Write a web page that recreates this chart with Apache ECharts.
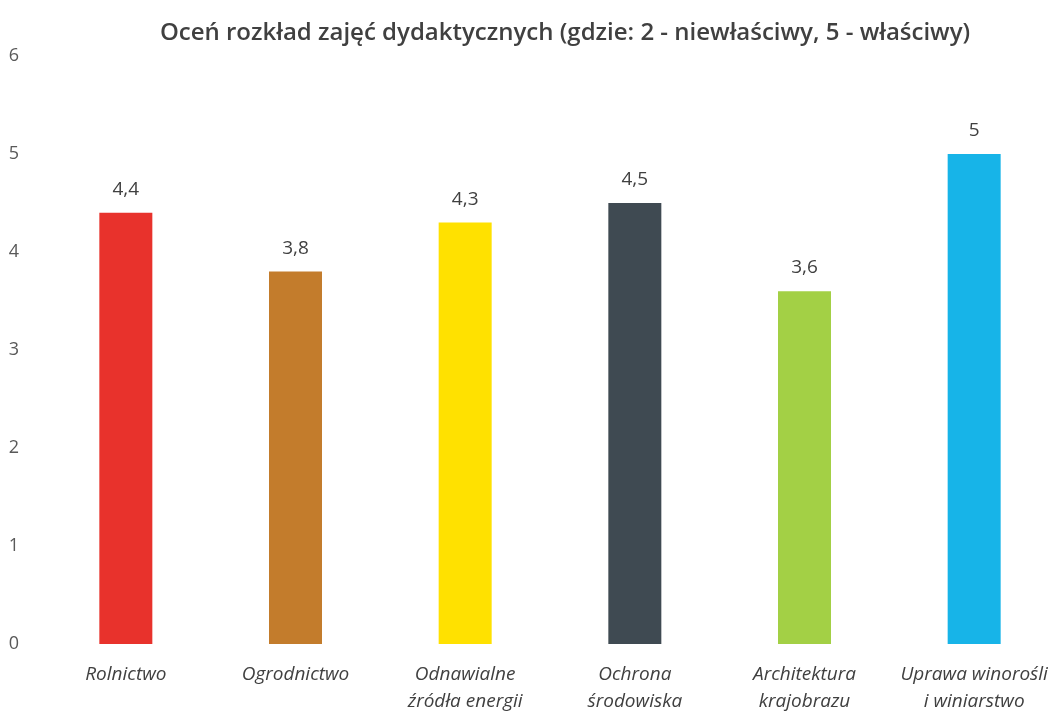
<!DOCTYPE html>
<html>
<head>
<meta charset="utf-8">
<script src="https://cdn.jsdelivr.net/npm/echarts@6/dist/echarts.min.js"></script>
<style>
  html, body { margin: 0; padding: 0; background: #fff; }
  #chart { width: 1059px; height: 712px; }
</style>
</head>
<body>
<div id="chart"></div>
<script>
const categories = [
  "Rolnictwo",
  "Ogrodnictwo",
  "Odnawialne\nźródła energii",
  "Ochrona\nśrodowiska",
  "Architektura\nkrajobrazu",
  "Uprawa winorośli\ni winiarstwo"
];
const ratings = [4.4, 3.8, 4.3, 4.5, 3.6, 5];
const barColors = ["#e8322c", "#c37c2c", "#ffe100", "#3f4a52", "#a3d045", "#17b4e8"];

const chart = echarts.init(document.getElementById("chart"));

chart.setOption({
  backgroundColor: "#ffffff",
  animation: false,
  title: {
    text: "Oceń rozkład zajęć dydaktycznych (gdzie: 2 - niewłaściwy, 5 - właściwy)",
    left: 560,
    top: 16,
    textAlign: "center",
    textStyle: {
      fontFamily: "Open Sans",
      fontSize: 24,
      fontWeight: 600,
      color: "#404040"
    }
  },
  grid: { left: 41, right: 0, top: 56, bottom: 68, outerBoundsMode: "none" },
  xAxis: {
    type: "category",
    data: categories,
    axisLine: { show: false },
    axisTick: { show: false },
    axisLabel: {
      interval: 0,
      margin: 17,
      fontFamily: "Open Sans",
      fontStyle: "italic",
      fontSize: 19,
      lineHeight: 27,
      color: "#404040"
    }
  },
  yAxis: {
    type: "value",
    min: 0,
    max: 6,
    interval: 1,
    splitLine: { show: false },
    axisLine: { show: false },
    axisTick: { show: false },
    axisLabel: {
      margin: 22,
      fontFamily: "Open Sans",
      fontSize: 18,
      color: "#595959"
    }
  },
  series: [
    {
      type: "bar",
      barWidth: 53,
      data: ratings.map((v, i) => ({ value: v, itemStyle: { color: barColors[i] } })),
      label: {
        show: true,
        position: "top",
        distance: 14,
        fontFamily: "Open Sans",
        fontSize: 19,
        color: "#404040",
        formatter: (p) => String(p.value).replace(".", ",")
      }
    }
  ]
});
</script>
</body>
</html>
